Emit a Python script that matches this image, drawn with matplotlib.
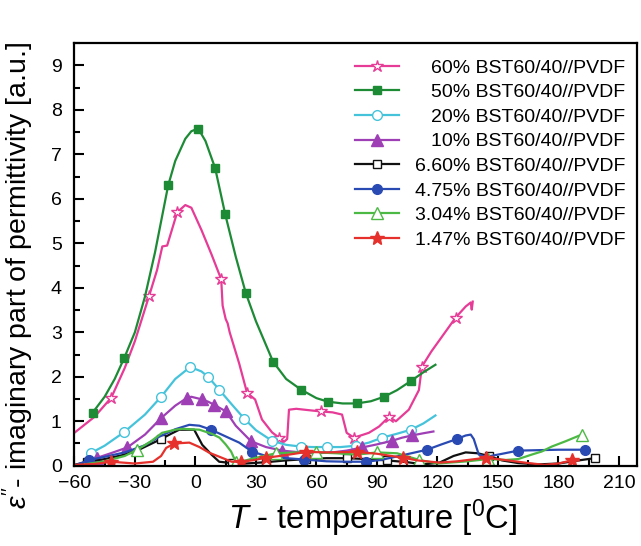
import matplotlib
matplotlib.use("Agg")
import matplotlib.pyplot as plt
from matplotlib.ticker import MultipleLocator

plt.rcParams['font.family'] = ['Liberation Sans', 'DejaVu Sans']
plt.rcParams['mathtext.fontset'] = 'custom'
plt.rcParams['mathtext.rm'] = 'Liberation Sans'
plt.rcParams['mathtext.it'] = 'Liberation Sans:italic'

# ---- data ----
labels = ["60% BST60/40//PVDF", "50% BST60/40//PVDF", "20% BST60/40//PVDF",
          "10% BST60/40//PVDF", "6.60% BST60/40//PVDF", "4.75% BST60/40//PVDF",
          "3.04% BST60/40//PVDF", "1.47% BST60/40//PVDF"]

t60 = [-60, -50, -41.7, -35, -30, -23, -19, -16.4, -14, -11, -9, -5, -2, 3, 8, 12.8,
       13.5, 15, 16, 17, 21.7, 25.6, 29.6, 33, 38, 41.5, 44, 45.5, 46.4, 50, 56, 62.3,
       68, 72.7, 75, 78.6, 86, 91, 96, 99.4, 105.8, 110.8, 112.3, 117, 123, 129, 134,
       136.5, 137, 137.5]
v60 = [0.74, 1.1, 1.53, 2.2, 2.8, 3.81, 4.4, 4.93, 4.95, 5.4, 5.7, 5.86, 5.8, 5.3, 4.75,
       4.19, 3.6, 3.3, 3.2, 3.0, 2.3, 1.64, 1.49, 1.04, 0.75, 0.63, 0.54, 0.6, 1.26, 1.28,
       1.25, 1.22, 1.2, 1.15, 0.74, 0.63, 0.74, 0.88, 1.1, 1.0, 1.26, 1.7, 2.23, 2.57,
       2.95, 3.33, 3.58, 3.67, 3.51, 3.69]
m60 = [2, 5, 10, 15, 21, 25, 31, 35, 38, 42, 45]

t50 = [-51, -45, -40, -35.2, -30, -25, -20, -13.5, -10, -5, -2, 1.4, 5, 9.8, 14.8, 20,
       25, 30, 38.5, 45, 52.4, 60, 65.7, 73, 80, 87, 93.5, 100, 107, 113, 119]
v50 = [1.19, 1.55, 1.95, 2.43, 3.0, 3.8, 4.8, 6.3, 6.85, 7.35, 7.52, 7.58, 7.3, 6.69,
       5.65, 4.7, 3.88, 3.25, 2.34, 1.95, 1.71, 1.52, 1.44, 1.40, 1.40, 1.45, 1.55, 1.7,
       1.91, 2.1, 2.27]
m50 = [0, 3, 7, 11, 13, 14, 16, 18, 20, 22, 24, 26, 28]

t20 = [-51.6, -45, -35.2, -25, -17, -10, -2.6, 3, 6.3, 11.8, 18, 24.2, 30, 38, 45, 52.4,
       58, 65, 72, 79.6, 86, 92.5, 100, 106.8, 113, 119]
v20 = [0.29, 0.45, 0.76, 1.15, 1.55, 1.95, 2.22, 2.12, 2.0, 1.71, 1.38, 1.06, 0.8, 0.56,
       0.47, 0.43, 0.42, 0.42, 0.42, 0.45, 0.52, 0.63, 0.72, 0.81, 0.95, 1.13]
m20 = [0, 2, 4, 6, 8, 9, 11, 13, 15, 17, 19, 21, 23]

t10 = [-55, -48.6, -42, -33.8, -25, -17, -10, -4, -2, 3.4, 6.3, 9.3, 15.2, 20, 27.6, 35,
       43, 52, 60, 68, 75, 82.6, 90, 97.4, 102.4, 107.3, 113, 118]
v10 = [0.08, 0.18, 0.28, 0.41, 0.7, 1.07, 1.35, 1.53, 1.55, 1.49, 1.44, 1.37, 1.22, 0.9,
       0.55, 0.42, 0.34, 0.3, 0.28, 0.3, 0.34, 0.41, 0.48, 0.56, 0.63, 0.68, 0.73, 0.77]
m10 = [1, 3, 5, 7, 9, 11, 12, 14, 16, 21, 23, 25]

t66 = [-60, -53.5, -45, -35, -28, -17, -12, -8, -0.6, 3.4, 8, 11.8, 18, 25, 35, 45, 55,
       65, 75, 85, 95, 105, 113, 121, 128, 134, 140, 145.4, 152, 160, 170, 180, 190, 198]
v66 = [0.02, 0.09, 0.15, 0.25, 0.36, 0.6, 0.72, 0.81, 0.81, 0.47, 0.25, 0.09, 0.06, 0.05,
       0.08, 0.12, 0.15, 0.17, 0.17, 0.15, 0.12, 0.08, 0.03, 0.07, 0.22, 0.3, 0.28, 0.22,
       0.12, 0.06, 0.03, 0.05, 0.12, 0.17]
m66 = [1, 5, 12, 14, 16, 18, 20, 27, 33]

t475 = [-60, -52.6, -45, -35, -25, -18, -10, -3, 2, 7.8, 14, 21.7, 28, 35, 45, 54, 65, 75,
        84.6, 92, 99, 107, 114.8, 122, 129.6, 134, 136.5, 138, 140.5, 144, 150, 160, 170,
        180, 193]
v475 = [0.0, 0.13, 0.2, 0.3, 0.46, 0.65, 0.82, 0.92, 0.9, 0.81, 0.68, 0.52, 0.32, 0.22,
        0.17, 0.14, 0.1, 0.09, 0.09, 0.13, 0.2, 0.28, 0.36, 0.48, 0.6, 0.68, 0.7, 0.6,
        0.25, 0.2, 0.25, 0.34, 0.35, 0.36, 0.36]
m475 = [1, 9, 12, 15, 18, 22, 24, 31, 34]

t304 = [-55, -45, -35, -28.8, -22, -16.5, -10, -6.5, 2, 8, 12, 15, 17.7, 20, 25, 30, 40,
        50, 60, 70, 80, 90, 100, 111, 120, 135, 145, 154, 160, 166.7, 171.7, 176.6, 183.5,
        191.5]
v304 = [0.03, 0.1, 0.22, 0.36, 0.55, 0.74, 0.81, 0.83, 0.81, 0.72, 0.63, 0.48, 0.32, 0.09,
        0.12, 0.18, 0.28, 0.3, 0.3, 0.28, 0.25, 0.3, 0.28, 0.13, 0.05, 0.1, 0.15, 0.13,
        0.15, 0.25, 0.32, 0.43, 0.55, 0.7]
m304 = [3, 13, 16, 18, 21, 23, 26, 33]

t147 = [-60, -50, -41.7, -30, -21, -17, -14.5, -10.5, -3, 2, 7, 12, 18, 22.6, 28, 35, 42,
        55, 65, 80, 90, 103, 110, 121, 130, 144, 155, 165, 173, 180, 186.5, 190]
v147 = [0.02, 0.04, 0.09, 0.05, 0.09, 0.22, 0.4, 0.5, 0.52, 0.42, 0.29, 0.2, 0.09, 0.09,
        0.12, 0.18, 0.22, 0.31, 0.3, 0.31, 0.27, 0.18, 0.12, 0.07, 0.1, 0.18, 0.12, 0.06,
        0.02, 0.05, 0.12, 0.12]
m147 = [2, 7, 13, 15, 17, 19, 21, 25, 30]

series = [
    (t60, v60, m60, '#e63b96', '*', 'white', 9),
    (t50, v50, m50, '#1d8a36', 's', None, 6),
    (t20, v20, m20, '#45c3db', 'o', 'white', 7),
    (t10, v10, m10, '#9e3fb6', '^', None, 8),
    (t66, v66, m66, '#111111', 's', 'white', 6),
    (t475, v475, m475, '#2a4ab3', 'o', None, 7),
    (t304, v304, m304, '#4cb944', '^', 'white', 8),
    (t147, v147, m147, '#e5302b', '*', None, 10),
]

fig = plt.figure(figsize=(6.41, 5.46), dpi=100)
ax = fig.add_axes([0.116, 0.147, 0.878, 0.774])

for (t, v, mk, col, marker, face, ms), lab in zip(series, labels):
    ax.plot(t, v, color=col, lw=1.6, marker=marker, markevery=mk, ms=ms,
            mfc=face if face else col, mec=col, mew=1.0, label=lab)

ax.set_xlim(-60, 219)
ax.set_ylim(0, 9.5)
ax.xaxis.set_major_locator(MultipleLocator(30))
ax.xaxis.set_minor_locator(MultipleLocator(15))
ax.yaxis.set_major_locator(MultipleLocator(1))
ax.yaxis.set_minor_locator(MultipleLocator(0.5))
ax.tick_params(which='both', direction='in', width=1.5, top=False, right=False,
               labelsize=14)
ax.tick_params(axis='x', which='major', length=7, pad=7)
ax.tick_params(axis='y', which='major', length=7, pad=9)
ax.tick_params(which='minor', length=4)
for sp in ax.spines.values():
    sp.set_linewidth(1.6)

ax.set_xlabel(r"$T$ - temperature [$^{0}$C]", fontsize=23.5)
ax.xaxis.set_label_coords(0.53, -0.075)
ax.set_ylabel(r"$\varepsilon''$- imaginary part of permittivity [a.u.]", fontsize=20.5)
ax.yaxis.set_label_coords(-0.068, 0.45)

leg = ax.legend(loc='upper right', bbox_to_anchor=(1.0, 0.99), frameon=False,
                fontsize=14, handlelength=2.3, handletextpad=0.8, labelspacing=0.36,
                borderaxespad=0.2)

# right-align legend texts
fig.canvas.draw()
r = fig.canvas.get_renderer()
texts = leg.get_texts()
widths = [t.get_window_extent(r).width for t in texts]
wmax = max(widths)
for t, w in zip(texts, widths):
    t.set_position((wmax - w, 0))

fig.savefig("out.png", dpi=100)
